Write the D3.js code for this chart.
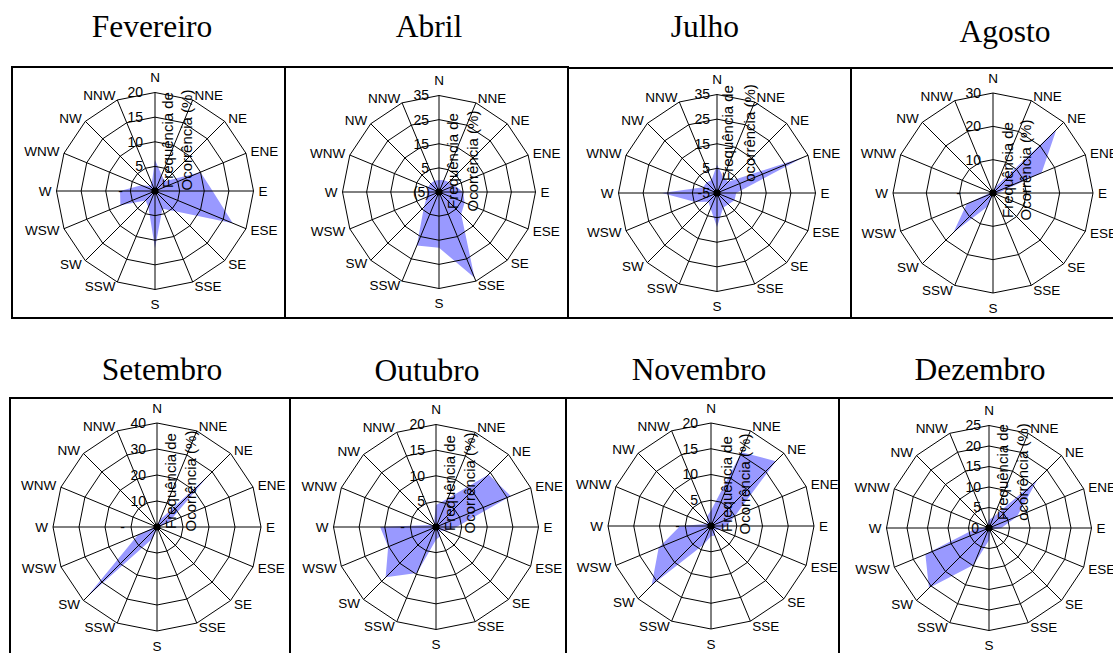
<!DOCTYPE html>
<html><head><meta charset="utf-8">
<script src="https://cdn.jsdelivr.net/npm/d3@7"></script>
<style>body{margin:0;background:#fff}svg{display:block}</style>
</head><body>
<svg id="c" width="1113" height="653"></svg>
<script>
// ---- data ----
const directions = ["N","NNE","NE","ENE","E","ESE","SE","SSE","S","SSW","SW","WSW","W","WNW","NW","NNW"];
const months = ["Fevereiro","Abril","Julho","Agosto","Setembro","Outubro","Novembro","Dezembro"];

const fevereiro = [6.3, 3.5, 2.8, 10, 11.7, 17.1, 5.8, 3.9, 11.6, 3.5, 2.7, 7.6, 7.1, 3, 1.4, 1.7];
const abril     = [0, 0.3, 0.8, 2, 5, 6.5, 8, 33.5, 18.1, 19, 3.8, 0.5, 0, 0, 0, 0];
const julho     = [6.5, 1.8, 1.5, 33, 2.8, 2.7, 1.5, 1.5, 8.8, 1.8, 0, 4.5, 17.3, 1.1, 1, 0.7];
const agosto    = [0.5, 2, 26.9, 15.8, 1.5, 1, 0.5, 0.5, 0.5, 4.5, 16.8, 8.5, 1, 0.5, 0.5, 0.5];
const setembro  = [1, 3, 28, 5, 1, 0.5, 0.5, 0.5, 1, 5, 38.4, 8, 1, 0.5, 0.5, 0.5];
const outubro   = [4.3, 6, 14.5, 15.8, 4, 2, 1, 2, 2.5, 9.7, 13.9, 10.1, 10.9, 1, 0.5, 1];
const novembro  = [3, 15.5, 17.8, 5, 3, 2, 1, 2, 2, 4, 16.3, 11, 6, 1, 1, 2];
const dezembro  = [2, 3, 16.8, 7.4, 3, 1, 0.5, 1, 3, 9.7, 20.7, 16.8, 3, 0.5, 0.5, 1];

// tick values and their labels (Excel accounting format)
const ticksFevereiro = [0, 5, 10, 15, 20];      const labelsFevereiro = ["-", "5", "10", "15", "20"];
const ticksAbril     = [-5, 5, 15, 25, 35];     const labelsAbril     = ["(5)", "5", "15", "25", "35"];
const ticksJulho     = [-5, 5, 15, 25, 35];     const labelsJulho     = ["-5", "5", "15", "25", "35"];
const ticksAgosto    = [0, 10, 20, 30];         const labelsAgosto    = ["-", "10", "20", "30"];
const ticksSetembro  = [0, 10, 20, 30, 40];     const labelsSetembro  = ["-", "10", "20", "30", "40"];
const ticksOutubro   = [0, 5, 10, 15, 20];      const labelsOutubro   = ["-", "5", "10", "15", "20"];
const ticksNovembro  = [0, 5, 10, 15, 20];      const labelsNovembro  = ["-", "5", "10", "15", "20"];
const ticksDezembro  = [0, 5, 10, 15, 20, 25];  const labelsDezembro  = ["0", "5", "10", "15", "20", "25"];

const axisTitle1 = "Frequência de";
const axisTitle2 = ["Ocorrência (%)","Ocorrência (%)","ocorrência (%)","Ocorrência (%)","Ocorrência (%)","Ocorrência (%)","Ocorrência (%)","ocorrência (%)"];

const series = [fevereiro, abril, julho, agosto, setembro, outubro, novembro, dezembro];
const ticks  = [ticksFevereiro, ticksAbril, ticksJulho, ticksAgosto, ticksSetembro, ticksOutubro, ticksNovembro, ticksDezembro];
const tickLabels = [labelsFevereiro, labelsAbril, labelsJulho, labelsAgosto, labelsSetembro, labelsOutubro, labelsNovembro, labelsDezembro];

// ---- layout ----
const layout = [
 {cx:155, cy:191, R:98.5, box:[12,67,285,318],   title:[152,37],  tl:[13,32,-51], tk:12, zero:32},
 {cx:439, cy:192, R:96.5, box:[285,67,568,318],  title:[429,37],  tl:[14,34,-31], tk:10, zero:9},
 {cx:717, cy:193, R:98.5, box:[568,68,851,318],  title:[705,37],  tl:[11,33,-60], tk:7,  zero:7},
 {cx:993, cy:193, R:100,  box:[851,68,1125,318], title:[1005,42], tl:[15,33,-23], tk:12, zero:32},
 {cx:157, cy:527, R:104,  box:[10,398,290,670],  title:[162,380], tl:[14,34,-46], tk:11, zero:32},
 {cx:436, cy:527, R:102.5,box:[290,398,566,670], title:[427,381], tl:[14,34,-44], tk:11, zero:31},
 {cx:711, cy:526, R:103,  box:[566,398,839,670], title:[699,380], tl:[16,34,-42], tk:13, zero:31},
 {cx:989, cy:528, R:102.5,box:[839,398,1125,670],title:[980,380], tl:[14,34,-56], tk:8,  zero:10}
];

const svg = d3.select("#c");
svg.append("rect").attr("width",1113).attr("height",653).attr("fill","#fff");
const sansFont = "'Liberation Sans', Arial, sans-serif";
const serifFont = "'Liberation Serif', 'Times New Roman', serif";

const angle = d3.scalePoint().domain(directions).range([0, 2*Math.PI*(15/16)]);

layout.forEach((L, k) => {
  const tv = ticks[k];
  const r = d3.scaleLinear().domain([d3.min(tv), d3.max(tv)]).range([0, L.R]);
  const g = svg.append("g").attr("transform", `translate(${L.cx},${L.cy})`);

  // filled series
  const area = d3.lineRadial()
    .angle((d,i) => angle(directions[i]))
    .radius(d => r(d))
    .curve(d3.curveLinearClosed);
  g.append("path").attr("d", area(series[k]))
    .attr("fill","#9999ff").attr("stroke","none");

  // rings
  const ringLine = d3.lineRadial().angle(d => angle(d)).curve(d3.curveLinearClosed);
  tv.filter(t => r(t) > 0).forEach(t => {
    g.append("path")
      .attr("d", ringLine.radius(() => r(t))(directions))
      .attr("fill","none").attr("stroke","#000").attr("stroke-width",1);
  });

  // spokes
  directions.forEach(dn => {
    const a = angle(dn);
    g.append("line").attr("x1",0).attr("y1",0)
      .attr("x2", L.R*Math.sin(a)).attr("y2", -L.R*Math.cos(a))
      .attr("stroke","#000").attr("stroke-width",1);
  });
  g.append("circle").attr("r",3.6).attr("fill","#000");

  // direction labels
  directions.forEach(dn => {
    const a = angle(dn), s = Math.sin(a), c = Math.cos(a);
    const vertical = Math.abs(s) < 0.01;
    const x = vertical ? 0 : (L.R+5)*s;
    const y = vertical ? -(L.R+15)*c : -(L.R+5)*c;
    g.append("text").attr("x",x).attr("y",y).attr("dy","0.35em")
      .attr("text-anchor", vertical ? "middle" : (s > 0 ? "start" : "end"))
      .attr("font-family", sansFont).attr("font-size", 13.5).text(dn);
  });

  // value axis labels
  tv.forEach((t, j) => {
    const lab = tickLabels[k][j];
    const isCenter = r(t) === 0;
    g.append("text")
      .attr("x", isCenter ? -L.zero : -L.tk)
      .attr("y", -r(t)).attr("dy","0.35em")
      .attr("text-anchor","end")
      .attr("font-family", sansFont).attr("font-size", 14).text(lab);
  });

  // rotated axis title
  [[axisTitle1, L.tl[0]], [axisTitle2[k], L.tl[1]]].forEach(([txt, dx]) => {
    g.append("text")
      .attr("transform", `translate(${dx},${L.tl[2]}) rotate(-90)`)
      .attr("dy","0.35em").attr("text-anchor","middle")
      .attr("font-family", sansFont).attr("font-size", 15).text(txt);
  });

  // box
  const b = L.box;
  svg.append("rect").attr("x",b[0]).attr("y",b[1]).attr("width",b[2]-b[0]).attr("height",b[3]-b[1])
    .attr("fill","none").attr("stroke","#000").attr("stroke-width",2);

  // month title
  svg.append("text").attr("x",L.title[0]).attr("y",L.title[1])
    .attr("text-anchor","middle").attr("font-family", serifFont).attr("font-size", 31.5)
    .text(months[k]);
});
</script>
</body></html>
